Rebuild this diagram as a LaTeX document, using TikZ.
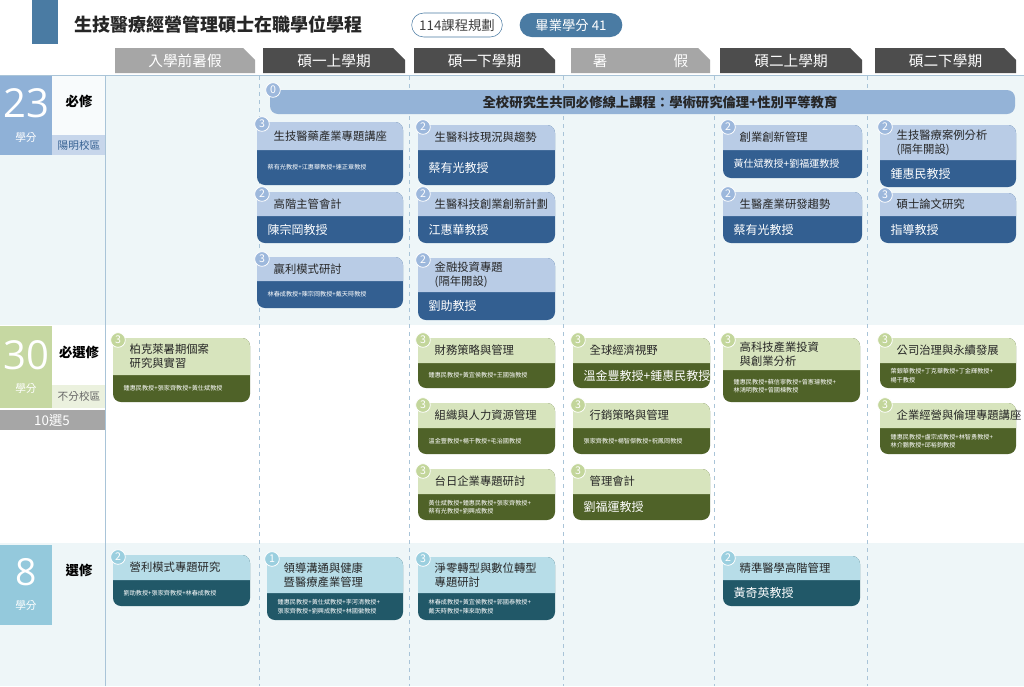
\documentclass[tikz,border=0pt]{standalone}
\usepackage{fontspec}
\setmainfont{Noto Sans CJK TC}
\newfontfamily\numfont{Open Sans}
\definecolor{hdrblue}{HTML}{B9CCE6}\definecolor{bodyblue}{HTML}{335F91}\definecolor{badgeblue}{HTML}{9DB8DC}
\definecolor{hdrgreen}{HTML}{D7E4BD}\definecolor{bodygreen}{HTML}{4F6228}\definecolor{badgegreen}{HTML}{C3D69B}
\definecolor{hdrteal}{HTML}{B7DDE8}\definecolor{bodyteal}{HTML}{215868}\definecolor{badgeteal}{HTML}{9BCFDF}
\definecolor{rowbg}{HTML}{EEF6F8}
\definecolor{gridc}{HTML}{A9C4D8}
\definecolor{tabdark}{HTML}{4D4D4D}\definecolor{tabgray}{HTML}{A6A6A6}
\definecolor{titleblue}{HTML}{4A7BA3}
\definecolor{box23}{HTML}{8FB1D7}\definecolor{box30}{HTML}{C6D8A2}\definecolor{box8}{HTML}{94C9DC}
\definecolor{banner}{HTML}{94B3D7}
\tikzset{
 ttl/.style={anchor=west,align=left,text=black!85,font=\fontsize{8.5}{10.5}\selectfont},
 bigb/.style={anchor=west,align=left,text=white,font=\fontsize{9}{11}\selectfont},
 smb/.style={anchor=west,align=left,text=white,font=\fontsize{4.6}{6.5}\selectfont},
 badge/.style={circle,draw=white,line width=0.6pt,inner sep=0pt,minimum size=11pt,text=white,font=\fontsize{8}{8}\selectfont},
 tab/.style={text=white,font=\fontsize{11}{11}\selectfont},
 vsep/.style={gridc,dashed,line width=0.5pt},
}
\newcommand\card[9]{%
 \fill[body#7,rounded corners=6pt] (#2,#3) rectangle (#4,#5);
 \fill[hdr#7,rounded corners=6pt] (#2,#6) -- (#2,#3) -- (#4,#3) -- (#4,#6);
 \node[ttl] (#1) at ({#2+12},{(#3+#6)/2}) {#9};
 \coordinate (#1-b) at ({#2+6},{(#6+#5)/2});
 \node[badge,fill=badge#7] (#1-n) at ({#2+5},{#3+2}) {#8};
}
\newcommand\tabhead[5]{%
 \fill[#4] (#2,48) -- ({#3-12},48) -- (#3,60) -- (#3,73) -- (#2,73) -- cycle;
 \node[tab] (#1) at ({(#2+#3)/2},61) {#5};
}
\begin{document}
\begin{tikzpicture}[x=0.75pt,y=-0.75pt]
\useasboundingbox (0,0) rectangle (1024,686);
\fill[white] (0,0) rectangle (1024,686);
% row backgrounds
\fill[rowbg] (0,76) rectangle (1024,325);
\fill[rowbg] (0,543) rectangle (1024,686);
\draw[gridc,line width=0.6pt] (0,75) -- (1024,75);
% title
\fill[titleblue] (32,0) rectangle (58,44);
\node[anchor=west,font=\fontsize{13.5}{14}\selectfont\bfseries,text=black!85] (title) at (70,25) {生技醫療經營管理碩士在職學位學程};
\node[draw=titleblue,rounded corners=9pt,minimum width=68pt,minimum height=18pt,inner sep=0pt,font=\fontsize{10}{10}\selectfont,text=black!75] (pill1) at (457,25) {114課程規劃};
\node[fill=titleblue,rounded corners=9pt,minimum width=77pt,minimum height=18pt,inner sep=0pt,font=\fontsize{10}{10}\selectfont,text=white] (pill2) at (571,25) {畢業學分 41};
% tabs
\tabhead{t1}{115}{255}{tabgray}{入學前暑假}
\tabhead{t2}{263}{405}{tabdark}{碩一上學期}
\tabhead{t3}{414}{555}{tabdark}{碩一下學期}
\tabhead{t4}{571}{710}{tabgray}{暑\hspace{4.5em}假}
\tabhead{t5}{720}{862}{tabdark}{碩二上學期}
\tabhead{t6}{875}{1016}{tabdark}{碩二下學期}
% grid lines
\draw[gridc,line width=0.7pt] (105,76) -- (105,686);
\foreach \xx in {259,409,563,714,867} \draw[vsep] (\xx,76) -- (\xx,686);
% left labels
\fill[box23] (0,76) rectangle (52,155);
\fill[white!60!rowbg] (52,76) rectangle (105,135);
\fill[hdrblue!80!white] (52,135) rectangle (105,155);
\node[text=white,font=\numfont\fontsize{30}{30}\selectfont] (n23) at (26,103) {23};
\node[text=white,font=\fontsize{8}{8}\selectfont] (u23) at (26,138) {學分};
\node[font=\fontsize{10}{10}\selectfont\bfseries] (r1) at (79,101) {必修};
\node[text=bodyblue,font=\fontsize{8}{8}\selectfont] (c1) at (79,145) {陽明校區};
\fill[box30] (0,326) rectangle (52,408);
\fill[hdrgreen!50!white] (52,385) rectangle (105,408);
\node[text=white,font=\numfont\fontsize{30}{30}\selectfont] (n30) at (26,355) {30};
\node[text=white,font=\fontsize{8}{8}\selectfont] (u30) at (26,389) {學分};
\node[font=\fontsize{10}{10}\selectfont\bfseries] (r2) at (79,352) {必選修};
\node[text=black!60,font=\fontsize{8}{8}\selectfont] (c2) at (79,396) {不分校區};
\fill[tabgray] (0,410) rectangle (105,430);
\node[text=white,font=\fontsize{10}{10}\selectfont] (ten) at (52,420) {10選5};
\fill[box8] (0,545) rectangle (52,625);
\node[text=white,font=\numfont\fontsize{28}{28}\selectfont] (n8) at (26,572) {8};
\node[text=white,font=\fontsize{8}{8}\selectfont] (u8) at (26,606) {學分};
\node[font=\fontsize{10}{10}\selectfont\bfseries] (r3) at (79,570) {選修};
% banner
\fill[banner,rounded corners=6pt] (270,90) rectangle (1015,114);
\node[font=\fontsize{10}{10}\selectfont\bfseries,text=black!85] (ban) at (660,102) {全校研究生共同必修線上課程：學術研究倫理+性別平等教育};
\node[badge,fill=badgeblue] (ban-n) at (273,90) {0};
% blue cards
\card{a1}{257}{122}{403}{185}{150}{blue}{3}{生技醫藥產業專題講座}
\node[smb] at (a1-b) {蔡有光教授+江惠華教授+連正章教授};
\card{a2}{257}{192}{403}{243}{216}{blue}{2}{高階主管會計}
\node[bigb] at (a2-b) {陳宗岡教授};
\card{a3}{257}{257}{403}{308}{281}{blue}{3}{贏利模式研討}
\node[smb] at (a3-b) {林春成教授+陳宗岡教授+戴天時教授};
\card{b1}{418}{125}{555}{185}{150}{blue}{2}{生醫科技現況與趨勢}
\node[bigb] at (b1-b) {蔡有光教授};
\card{b2}{418}{192}{555}{243}{216}{blue}{2}{生醫科技創業創新計劃}
\node[bigb] at (b2-b) {江惠華教授};
\card{b3}{418}{258}{555}{320}{292}{blue}{2}{金融投資專題\\(隔年開設)}
\node[bigb] at (b3-b) {劉助教授};
\card{c1c}{723}{125}{862}{178}{150}{blue}{2}{創業創新管理}
\node[bigb,font=\fontsize{7.5}{9}\selectfont] at (c1c-b) {黃仕斌教授+劉福運教授};
\card{c2c}{723}{192}{862}{243}{216}{blue}{2}{生醫產業研發趨勢}
\node[bigb] at (c2c-b) {蔡有光教授};
\card{d1}{880}{125}{1016}{187}{160}{blue}{2}{生技醫療案例分析\\(隔年開設)}
\node[bigb] at (d1-b) {鍾惠民教授};
\card{d2}{880}{193}{1016}{243}{216}{blue}{3}{碩士論文研究}
\node[bigb] at (d2-b) {指導教授};
% green cards
\card{e1}{113}{338}{250}{402}{375}{green}{3}{柏克萊暑期個案\\研究與實習}
\node[smb] at (e1-b) {鍾惠民教授+張家齊教授+黃仕斌教授};
\card{f1}{418}{338}{555}{388}{363}{green}{3}{財務策略與管理}
\node[smb] at (f1-b) {鍾惠民教授+黃宜侯教授+王國強教授};
\card{f2}{418}{403}{555}{454}{428}{green}{3}{組織與人力資源管理}
\node[smb] at (f2-b) {溫金豐教授+楊千教授+毛治國教授};
\card{f3}{418}{469}{555}{520}{494}{green}{3}{台日企業專題研討}
\node[smb] at (f3-b) {黃仕斌教授+鍾惠民教授+張家齊教授+\\蔡有光教授+劉興成教授};
\card{g1}{573}{338}{710}{388}{363}{green}{3}{全球經濟視野}
\node[bigb] at (g1-b) {溫金豐教授+鍾惠民教授};
\card{g2}{573}{403}{710}{454}{428}{green}{3}{行銷策略與管理}
\node[smb] at (g2-b) {張家齊教授+楊智傑教授+祝鳳岡教授};
\card{g3}{573}{469}{710}{520}{494}{green}{3}{管理會計}
\node[bigb] at (g3-b) {劉福運教授};
\card{h1}{723}{338}{860}{402}{370}{green}{3}{高科技產業投資\\與創業分析}
\node[smb] at (h1-b) {鍾惠民教授+蘇信寧教授+曾憲璿教授+\\林鴻明教授+曾國棟教授};
\card{i1}{880}{338}{1016}{388}{363}{green}{3}{公司治理與永續發展}
\node[smb] at (i1-b) {葉銀華教授+丁克華教授+丁金輝教授+\\楊千教授};
\card{i2}{880}{403}{1016}{454}{428}{green}{3}{企業經營與倫理專題講座}
\node[smb] at (i2-b) {鍾惠民教授+盧宗成教授+林智勇教授+\\林介鵬教授+邱裕鈞教授};
% teal cards
\card{j1}{113}{555}{250}{606}{580}{teal}{2}{營利模式專題研究}
\node[smb] at (j1-b) {劉助教授+張家齊教授+林春成教授};
\card{k1}{267}{557}{403}{620}{593}{teal}{1}{領導溝通與健康\\暨醫療產業管理}
\node[smb] at (k1-b) {鍾惠民教授+黃仕斌教授+李河清教授+\\張家齊教授+劉興成教授+林國徽教授};
\card{l1}{418}{557}{555}{620}{593}{teal}{3}{淨零轉型與數位轉型\\專題研討}
\node[smb] at (l1-b) {林春成教授+黃宜侯教授+郭國泰教授+\\戴天時教授+陳來助教授};
\card{m1}{723}{556}{860}{606}{580}{teal}{2}{精準醫學高階管理}
\node[bigb] at (m1-b) {黃奇英教授};
\end{tikzpicture}
\end{document}
